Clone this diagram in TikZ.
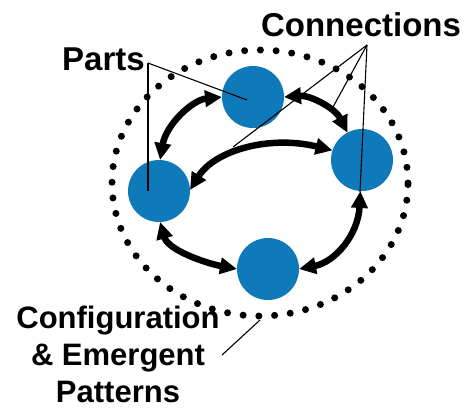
\documentclass[tikz,border=0pt]{standalone}
\usepackage{fontspec}
\setmainfont{Liberation Sans}
\usetikzlibrary{arrows.meta,shapes.geometric}
\definecolor{partblue}{RGB}{14,122,185}
\tikzset{
  part/.style={circle, fill=partblue, inner sep=0pt, outer sep=0pt, minimum size=62bp},
  conn/.style={line width=6.5bp, {Triangle[length=17bp,width=16bp]}-{Triangle[length=17bp,width=16bp]}},
  label/.style={font=\bfseries\fontsize{31bp}{37bp}\selectfont, inner sep=0pt},
  pointer/.style={line width=1.1bp},
  ring/.style={ellipse, inner sep=0pt, outer sep=0pt, draw, line width=7bp, line cap=round, dash pattern=on 0pt off 15.75bp, minimum width=296bp, minimum height=266bp}
}
\begin{document}
\begin{tikzpicture}[x=1bp,y=-1bp]
\useasboundingbox (0,0) rectangle (473,409);
% dotted boundary
\node[ring] (ring) at (260,183) {};
% parts
\node[part] (T) at (253,97) {};
\node[part] (R) at (362,160) {};
\node[part] (L) at (159,191) {};
\node[part] (B) at (268,269) {};
% connections
\draw[conn] (L.88) .. controls (166,125) and (192,100) .. (T.180);
\draw[conn] (T.0) .. controls (310,95) and (335,108) .. (R.118);
\draw[conn] (L.2) .. controls (215,150) and (270,135) .. (R.162);
\draw[conn] (L.-88) .. controls (168,250) and (205,263) .. (B.180);
\draw[conn] (B.0) .. controls (335,262) and (358,235) .. (R.-93);
% labels
\node[label, anchor=base, font=\bfseries\fontsize{33bp}{38bp}\selectfont] (parts) at (103.5,70) {Parts};
\node[label, anchor=base, font=\bfseries\fontsize{33bp}{38bp}\selectfont] (connections) at (361,36) {Connections};
\node[label, anchor=north, align=center] (config) at (118,306) {Configuration\\\& Emergent\\Patterns};
% pointer lines
\coordinate (pj) at (148,63);
\coordinate (cj) at (367,45);
\coordinate (cm) at (233,147);
\coordinate (ct) at (333,107);
\coordinate (cr) at (360,192);
\coordinate (gj) at (222,355);
\coordinate (gr) at (260,320);
\draw[pointer] (pj) -- ([shift={(-6,3)}]T.center);
\draw[pointer] (pj) -- ([shift={(-11,0)}]L.center);
\draw[pointer] (cj) -- (cm);
\draw[pointer] (cj) -- (ct);
\draw[pointer] (cj) -- (cr);
\draw[pointer] (gj) -- (gr);
\end{tikzpicture}
\end{document}
